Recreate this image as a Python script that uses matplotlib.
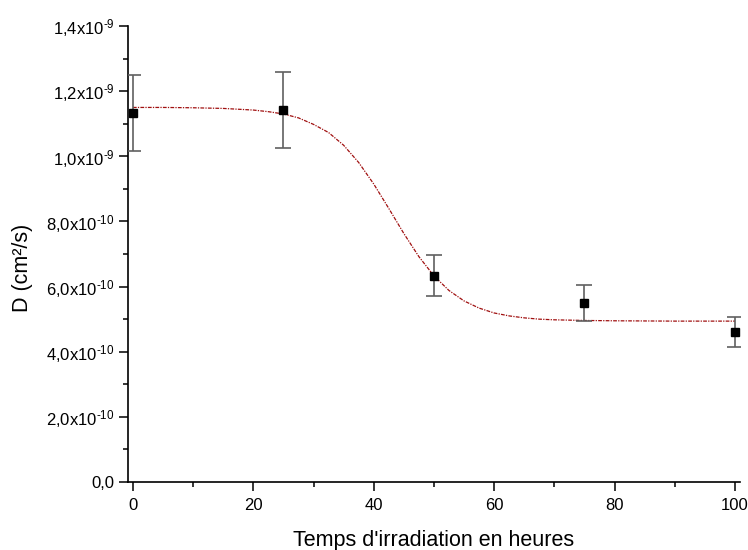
import matplotlib
matplotlib.use("Agg")
import matplotlib.pyplot as plt
from matplotlib.ticker import FixedLocator, MultipleLocator, FixedFormatter

plt.rcParams["font.family"] = ["Liberation Sans", "DejaVu Sans"]
plt.rcParams["mathtext.fontset"] = "custom"
plt.rcParams["mathtext.rm"] = "Liberation Sans"
plt.rcParams["mathtext.it"] = "Liberation Sans"

# measured points (hours, D in cm2/s)
hours = [0, 25, 50, 75, 100]
d_values = [1.132e-9, 1.143e-9, 0.634e-9, 0.550e-9, 0.460e-9]
d_errors = [0.117e-9, 0.116e-9, 0.064e-9, 0.055e-9, 0.047e-9]

# fitted curve
fit_hours = [0, 5, 10, 15, 20, 22.5, 25, 27.5, 30, 32.5, 35, 37.5, 40, 42.5,
             45, 47.5, 50, 52.5, 55, 57.5, 60, 62.5, 65, 67.5, 70, 75, 80, 90, 100]
fit_d = [1.150e-9, 1.150e-9, 1.149e-9, 1.147e-9, 1.142e-9, 1.137e-9, 1.130e-9,
         1.118e-9, 1.098e-9, 1.073e-9, 1.034e-9, 0.981e-9, 0.915e-9, 0.840e-9,
         0.763e-9, 0.692e-9, 0.633e-9, 0.588e-9, 0.556e-9, 0.534e-9, 0.519e-9,
         0.510e-9, 0.504e-9, 0.500e-9, 0.498e-9, 0.496e-9, 0.495e-9, 0.494e-9,
         0.494e-9]

y_ticks = [0, 0.2e-9, 0.4e-9, 0.6e-9, 0.8e-9, 1.0e-9, 1.2e-9, 1.4e-9]
y_labels = ["0,0", r"2,0x10$^{\text{-10}}$", r"4,0x10$^{\text{-10}}$",
            r"6,0x10$^{\text{-10}}$", r"8,0x10$^{\text{-10}}$",
            r"1,0x10$^{\text{-9}}$", r"1,2x10$^{\text{-9}}$", r"1,4x10$^{\text{-9}}$"]

fig = plt.figure(figsize=(7.48, 5.5), dpi=100)
ax = fig.add_axes([0.171, 0.1236, 0.818, 0.8291])

ax.plot(fit_hours, fit_d, color="#a01010", lw=0.9, ls=(0, (3, 1, 1, 1)), zorder=2)
ax.errorbar(hours, d_values, yerr=d_errors, fmt="none", ecolor="#606060",
            elinewidth=1.2, capsize=5.5, capthick=1.2, zorder=3)
ax.plot(hours, d_values, ls="none", marker="s", ms=6, color="black", zorder=4)

ax.set_xlim(-0.83, 100.8)
ax.set_ylim(0, 1.4e-9)
ax.xaxis.set_major_locator(MultipleLocator(20))
ax.xaxis.set_minor_locator(MultipleLocator(10))
ax.yaxis.set_major_locator(FixedLocator(y_ticks))
ax.yaxis.set_major_formatter(FixedFormatter(y_labels))
ax.yaxis.set_minor_locator(MultipleLocator(0.1e-9))

for side in ("top", "right"):
    ax.spines[side].set_visible(False)
for side in ("left", "bottom"):
    ax.spines[side].set_linewidth(1.2)

ax.tick_params(which="major", direction="out", length=6.5, width=1.1, labelsize=12)
ax.tick_params(axis="x", which="major", pad=5)
ax.tick_params(axis="y", which="major", pad=3)
ax.tick_params(which="minor", direction="out", length=3.5, width=1.1)

ax.set_xlabel("Temps d'irradiation en heures", fontsize=15.5)
ax.set_ylabel("D (cm²/s)", fontsize=15.5)
ax.xaxis.set_label_coords(0.5, -0.105)
ax.yaxis.set_label_coords(-0.155, 0.47)

fig.savefig("out.png", dpi=100)
